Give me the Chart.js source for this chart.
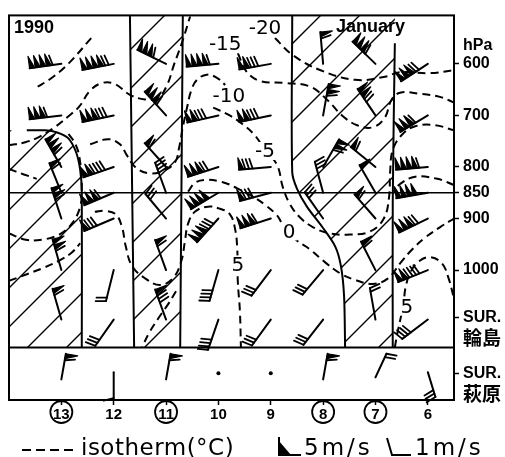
<!DOCTYPE html>
<html>
<head>
<meta charset="utf-8">
<script src="https://cdn.jsdelivr.net/npm/chart.js@4.4.1/dist/chart.umd.min.js"></script>
<style>
  html, body { margin: 0; padding: 0; background: #fff; }
  canvas { display: block; }
</style>
</head>
<body>
<canvas id="chart" width="505" height="457"></canvas>
<script>
// days run right to left, pressure (hPa) top to bottom
const days = [13, 12, 11, 10, 9, 8, 7, 6];
const circledDays = [13, 11, 8, 7];
const yTickValues = [600, 700, 800, 850, 900, 1000, 1092, 1136, 1200, 1244];
const yTickLabels = ['600', '700', '800', '850', '900', '1000', 'SUR.', '輪島', 'SUR.', '萩原'];
const nameOnlyTicks = [7, 9];
const panelSplit = 1150;

// wind per level, one entry per day 13..6: [direction from (deg), speed m/s]
const wind600 = [[262, 21], [259, 22], [296, 16], [265, 21], [260, 13], [355, 6], [314, 16], [237, 17]];
const wind700 = [[263, 16], [258, 18], [318, 16], [257, 13], [258, 13], [10, 11], [326, 12], [239, 16]];
const wind800 = [[330, 16], [251, 14], [318, 6], [252, 17], [265, 8], [30, 11], [309, 6], [265, 21]];
const wind850 = [[338, 6], [247, 16], [340, 4], [239, 20], [255, 8], [345, 3], [330, 5], [260, 20]];
const wind900 = [[342, 11], [247, 8], [320, 3], [222, 18], [252, 16], [325, 3], [319, 6], [244, 17]];
const wind1000 = [[344, 11], [194, 2], [340, 6], [196, 4], [217, 3], [220, 3], [333, 6], [248, 14]];
const windWajima = [[344, 6], [215, 3], [340, 8], [199, 4], [216, 3], [218, 3], [350, 2], [233, 4]];
const wajimaLevel = 1096;
const windHagiwara = [[10, 6], [180, 1], [10, 6], null, null, [10, 6], [25, 2], [163, 3]];
const hagiwaraLevel = [1212, 1198, 1212, 1200, 1200, 1212, 1208, 1198];

// isotherms as [day, hPa]
const isoM20 = [[8.92, 550], [8.58, 583], [8.06, 612], [7.39, 631], [6.82, 625], [6.53, 616], [5.96, 618], [5.5, 612]];
const isoM15 = [[9.63, 579], [9.47, 614], [9.21, 633], [8.73, 637], [8.25, 644], [7.91, 671], [7.64, 700], [7.35, 719], [7.05, 723], [6.82, 704], [6.70, 671], [6.53, 656], [6.15, 658], [5.77, 664], [5.5, 675]];
const isoM10 = [[12.45, 756], [12.11, 746], [11.88, 756], [11.75, 777], [11.59, 800], [11.34, 812], [11.06, 808], [10.83, 791], [10.75, 762], [10.68, 723], [10.60, 685], [10.52, 652], [10.41, 631], [10.22, 621], [10.03, 627], [9.87, 641]];
const isoM5 = [[10.10, 685], [9.82, 698], [9.55, 716], [9.30, 739], [9.13, 764], [8.88, 796], [8.77, 839], [8.63, 873], [8.44, 898], [8.19, 917], [7.87, 929], [7.49, 931], [7.10, 925], [6.84, 900], [6.74, 858], [6.72, 810], [6.67, 767], [6.49, 737], [6.24, 721], [5.86, 719], [5.5, 729]];
const iso0 = [[10.58, 848], [10.45, 831], [10.26, 825], [9.93, 829], [9.63, 842], [9.30, 860], [9.09, 875], [8.88, 894], [8.77, 912], [8.52, 941], [8.25, 960], [7.96, 985], [7.68, 1006], [7.39, 1019], [7.05, 1027], [6.76, 1016], [6.53, 987], [6.30, 960], [6.05, 937], [5.77, 917], [5.5, 900]];
const iso5 = [[12.36, 887], [12.17, 885], [11.96, 892], [11.84, 917], [11.77, 954], [11.65, 992], [11.40, 1016], [11.12, 1029], [10.87, 1016], [10.71, 983], [10.64, 944], [10.58, 910], [10.45, 887], [10.20, 877], [9.97, 881], [9.78, 892], [9.68, 921], [9.64, 960], [9.63, 1021], [9.59, 1079], [9.57, 1150]];
const iso5East = [[6.63, 1150], [6.59, 1127], [6.53, 1098], [6.47, 1069], [6.42, 1031], [6.32, 1002], [6.17, 983], [5.96, 975], [5.73, 987], [5.60, 1017], [5.5, 1056]];
const isoWestA = [[12.43, 550], [12.85, 598], [13.18, 627], [13.48, 646]];
const isoWestB = [[14, 758], [13.69, 752], [13.43, 742], [13.10, 721], [12.87, 702], [12.66, 683], [12.45, 652], [12.22, 637], [11.98, 639], [11.69, 660], [11.40, 669], [11.15, 666], [10.98, 641], [10.85, 602], [10.70, 560], [10.54, 508]];
const isoWestC = [[14, 929], [13.68, 941], [13.37, 941], [13.04, 931], [12.80, 910], [12.64, 877], [12.61, 839], [12.64, 791], [12.72, 758], [12.87, 735]];
const isoWestD = [[14, 1021], [13.66, 1008], [13.35, 996], [13.03, 981], [12.80, 966], [12.64, 948]];
const isoWestE = [[14, 804], [13.73, 814], [13.47, 823]];
const isoMidLow = [[10.81, 1041], [10.96, 1066], [11.15, 1094], [11.33, 1123], [11.46, 1150]];
const isoEastArc = [[5.5, 835], [5.82, 823], [6.24, 819], [6.53, 833], [6.65, 848]];

const isoLabels = [['-20', 9.11, 531], ['-15', 9.87, 562], ['-10', 9.80, 662], ['-5', 9.11, 769], ['0', 8.65, 925], ['5', 9.63, 989], ['5', 6.40, 1071]];

// solid boundaries of the hatched (cloudy) zones
const frontWest = [[13.66, 729], [13.31, 729], [13.08, 733], [12.87, 744], [12.72, 771], [12.64, 806], [12.61, 848], [12.61, 1150]];
const bandLeft = [[11.69, 506], [11.61, 1150]];
const bandRight = [[10.68, 506], [10.73, 1150]];
const frontEast = [[8.59, 506], [8.59, 810], [8.50, 842], [8.31, 877], [8.02, 916], [7.77, 954], [7.66, 992], [7.60, 1050], [7.58, 1150]];
const edgeEast = [[6.63, 560], [6.67, 867], [6.67, 1150]];
const line850 = [[14, 850], [5.5, 850]];

const hatchZones = [
  [[14, 729]].concat(frontWest, [[14, 1150]]),
  [[11.69, 506], [10.68, 506], [10.73, 1150], [11.61, 1150]],
  frontEast.concat([[6.67, 1150], [6.67, 867], [6.63, 560], [6.63, 506]])
];

const toXY = pts => pts.map(([x, y]) => ({ x, y }));
const dashed = pts => ({ data: toXY(pts), showLine: true, borderColor: '#000', borderWidth: 2, borderDash: [8, 5], tension: 0.4, pointRadius: 0 });
const solid = (pts, w) => ({ data: toXY(pts), showLine: true, borderColor: '#000', borderWidth: w, tension: 0.3, pointRadius: 0 });

function drawBarb(ctx, x, y, dir, spd, len) {
  if (!spd) {
    ctx.beginPath(); ctx.arc(x, y, 2, 0, Math.PI * 2); ctx.fill();
    return;
  }
  const r = dir * Math.PI / 180;
  const dx = Math.sin(r), dy = -Math.cos(r);
  const bx = -dy, by = dx;
  const at = t => [x + dx * t, y + dy * t];
  ctx.lineWidth = 2;
  ctx.beginPath(); ctx.moveTo(x, y); ctx.lineTo(...at(len)); ctx.stroke();
  let t = len;
  ctx.lineWidth = 1.2;
  for (let i = 0; i < Math.floor(spd / 5); i++) {
    const [x1, y1] = at(t), [x2, y2] = at(t - 5);
    ctx.beginPath(); ctx.moveTo(x1, y1); ctx.lineTo(x1 + bx * 12, y1 + by * 12); ctx.lineTo(x2, y2); ctx.closePath();
    ctx.fill(); ctx.stroke();
    t -= 5.6;
  }
  if (spd >= 5) t -= 1;
  ctx.lineWidth = 1.8;
  for (let i = 0; i < spd % 5; i++) {
    const [x1, y1] = at(t);
    ctx.beginPath(); ctx.moveTo(x1, y1); ctx.lineTo(x1 + bx * 10 + dx * 2.5, y1 + by * 10 + dy * 2.5); ctx.stroke();
    t -= 3.6;
  }
}

const sectionPlugin = {
  id: 'section',
  beforeDatasetsDraw(chart) {
    const { ctx, chartArea: a, scales: { x, y } } = chart;
    ctx.save();
    ctx.strokeStyle = '#000';
    ctx.lineWidth = 1.4;
    hatchZones.forEach(zone => {
      ctx.save();
      ctx.beginPath();
      zone.forEach(([t, p], i) => {
        const px = x.getPixelForValue(t), py = y.getPixelForValue(p);
        i ? ctx.lineTo(px, py) : ctx.moveTo(px, py);
      });
      ctx.closePath();
      ctx.clip();
      ctx.beginPath();
      for (let c = -15; c < 950; c += 39) {
        ctx.moveTo(a.left, c - a.left);
        ctx.lineTo(a.right, c - a.right);
      }
      ctx.stroke();
      ctx.restore();
    });
    ctx.restore();
  },
  afterDatasetsDraw(chart) {
    const { ctx, chartArea: a, scales: { x, y } } = chart;
    ctx.save();
    // isotherm labels
    ctx.font = '20px "DejaVu Sans"';
    ctx.textAlign = 'center';
    ctx.textBaseline = 'middle';
    isoLabels.forEach(([txt, t, p]) => {
      const px = x.getPixelForValue(t), py = y.getPixelForValue(p);
      const w = ctx.measureText(txt).width;
      ctx.fillStyle = '#fff';
      ctx.fillRect(px - w / 2 - 2, py - 9, w + 4, 18);
      ctx.fillStyle = '#000';
      ctx.fillText(txt, px, py + 1);
    });

    // wind barbs
    ctx.strokeStyle = '#000';
    ctx.fillStyle = '#000';
    ctx.lineCap = 'round';
    ctx.lineJoin = 'round';
    const rows = [[wind600, 600], [wind700, 700], [wind800, 800], [wind850, 850], [wind900, 900], [wind1000, 1000], [windWajima, wajimaLevel]];
    rows.forEach(([winds, lev]) => {
      winds.forEach((w, i) => drawBarb(ctx, x.getPixelForValue(days[i]), y.getPixelForValue(lev), w[0], w[1], 32));
    });
    windHagiwara.forEach((w, i) => {
      drawBarb(ctx, x.getPixelForValue(days[i]), y.getPixelForValue(hagiwaraLevel[i]), w ? w[0] : 0, w ? w[1] : 0, 26);
    });

    // frame and panel split
    ctx.lineCap = 'butt';
    ctx.lineJoin = 'miter';
    ctx.lineWidth = 2;
    ctx.strokeRect(a.left, a.top, a.right - a.left, a.bottom - a.top);
    const sy = y.getPixelForValue(panelSplit);
    ctx.beginPath(); ctx.moveTo(a.left, sy); ctx.lineTo(a.right, sy); ctx.stroke();

    // titles
    ctx.textAlign = 'left';
    ctx.textBaseline = 'alphabetic';
    ctx.font = 'bold 18px "Liberation Sans"';
    ctx.fillText('1990', a.left + 5, a.top + 18);
    ctx.fillText('January', 336, a.top + 17);
    ctx.font = 'bold 16px "Liberation Sans"';
    ctx.fillText('hPa', 463, 50);

    // circled day numbers
    ctx.lineWidth = 1.8;
    circledDays.forEach(d => {
      ctx.beginPath();
      ctx.arc(x.getPixelForValue(d), a.bottom + 12, 11, 0, Math.PI * 2);
      ctx.stroke();
    });

    // legend
    ctx.setLineDash([9, 5]);
    ctx.lineWidth = 2;
    ctx.beginPath(); ctx.moveTo(22, 450); ctx.lineTo(78, 450); ctx.stroke();
    ctx.setLineDash([]);
    ctx.font = '23px "DejaVu Sans"';
    ctx.letterSpacing = '0.5px';
    ctx.fillText('isotherm(°C)', 81, 455);
    ctx.beginPath(); ctx.moveTo(279, 437); ctx.lineTo(279, 455); ctx.lineTo(301, 455); ctx.stroke();
    ctx.beginPath(); ctx.moveTo(279, 441); ctx.lineTo(279, 455); ctx.lineTo(291, 455); ctx.closePath(); ctx.fill();
    ctx.letterSpacing = '3px';
    ctx.fillText('5m/s', 304, 455);
    ctx.beginPath(); ctx.moveTo(387, 438); ctx.lineTo(392, 455); ctx.lineTo(411, 455); ctx.stroke();
    ctx.fillText('1m/s', 415, 455);
    ctx.restore();
  }
};

Chart.defaults.color = '#000';
Chart.defaults.font.family = '"Liberation Sans", "Noto Sans CJK JP", sans-serif';

new Chart(document.getElementById('chart'), {
  type: 'scatter',
  data: {
    datasets: [
      dashed(isoM20), dashed(isoM15), dashed(isoM10), dashed(isoM5), dashed(iso0), dashed(iso5), dashed(iso5East),
      dashed(isoWestA), dashed(isoWestB), dashed(isoWestC), dashed(isoWestD), dashed(isoWestE), dashed(isoMidLow), dashed(isoEastArc),
      solid(frontWest, 2), solid(bandLeft, 2), solid(bandRight, 2), solid(frontEast, 2), solid(edgeEast, 2), solid(line850, 1.5)
    ]
  },
  options: {
    responsive: false,
    animation: false,
    layout: { padding: { left: 9, top: 12, right: 0, bottom: 0 } },
    plugins: { legend: { display: false }, tooltip: { enabled: false } },
    scales: {
      x: {
        type: 'linear', reverse: true, min: 5.5, max: 14,
        afterBuildTicks: s => { s.ticks = days.map(v => ({ value: v })); },
        afterFit: s => { s.height = 57; },
        grid: { drawOnChartArea: false, tickLength: 5, tickColor: '#000', tickWidth: 1.5 },
        border: { display: false },
        ticks: { autoSkip: false, maxRotation: 0, padding: 1, font: { size: 15, weight: 'bold' }, callback: v => String(v) }
      },
      y: {
        type: 'linear', position: 'right', reverse: true, min: 506, max: 1252,
        afterBuildTicks: s => { s.ticks = yTickValues.map(v => ({ value: v })); },
        afterFit: s => { s.width = 51; },
        grid: {
          drawOnChartArea: false, tickLength: 5, tickWidth: 1.5,
          tickColor: c => nameOnlyTicks.includes(c.index) ? 'rgba(0,0,0,0)' : '#000'
        },
        border: { display: false },
        ticks: {
          autoSkip: false, padding: 4,
          font: c => ({ size: nameOnlyTicks.includes(c.index) ? 19 : 16, weight: 'bold' }),
          callback: (v, i) => yTickLabels[i]
        }
      }
    }
  },
  plugins: [sectionPlugin]
});
</script>
</body>
</html>
